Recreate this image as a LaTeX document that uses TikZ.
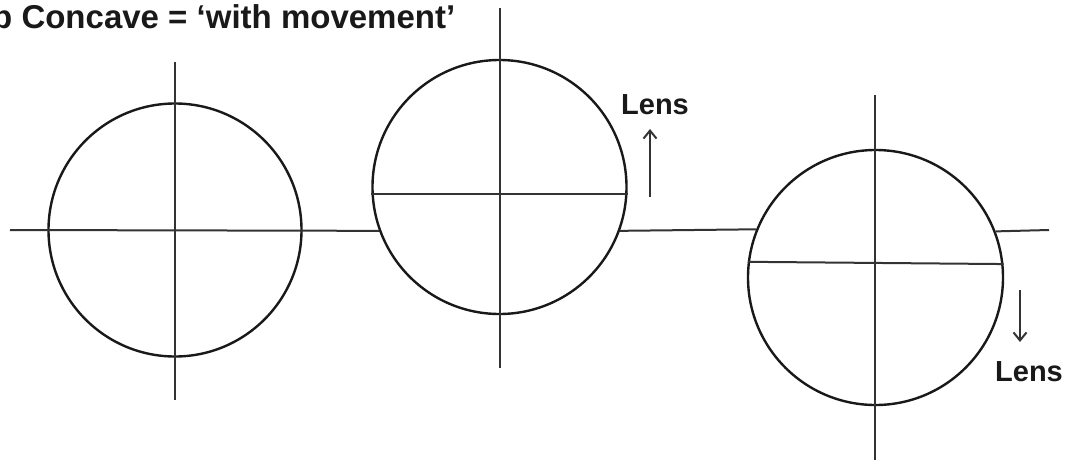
\documentclass[tikz,border=0pt]{standalone}
\usepackage{fontspec}
\setmainfont{Liberation Sans}
\usetikzlibrary{arrows.meta}
\begin{document}
\begin{tikzpicture}[x=1pt,y=-1pt,
  ring/.style={draw, circle, inner sep=0pt, line width=2.4pt, black!90},
  axis/.style={line width=2pt, black!80},
  lensarrow/.style={line width=2pt, black!80, -{Straight Barb[length=8pt,width=13pt]}},
  lbl/.style={font=\fontsize{29}{32}\selectfont\bfseries, inner sep=0pt, text=black!90},
  ttl/.style={font=\fontsize{33}{36}\selectfont\bfseries, inner sep=0pt, text=black!90}]
\useasboundingbox (0,0) rectangle (1068,461);
\fill[white] (0,0) rectangle (1068,461);
% title
\node[ttl, anchor=base west] (title) at (-8,28) {b Concave = ‘with movement’};
% circles
\node[ring, minimum size=253pt] (c1) at (175,230) {};
\node[ring, minimum size=254pt] (c2) at (499.5,187) {};
\node[ring, minimum size=255pt] (c3) at (875.5,277.5) {};
% axis end points
\coordinate (bl) at (10,230);
\coordinate (br) at (1049,230);
\coordinate (v1t) at (175,62);  \coordinate (v1b) at (175,400);
\coordinate (v2t) at (500,8);   \coordinate (v2b) at (500,368);
\coordinate (v3t) at (875,95);  \coordinate (v3b) at (875,460);
% baseline segments
\draw[axis] (bl) -- (c2.200);
\draw[axis] (c2.-20) -- (c3.158.1);
\draw[axis] (c3.21.9) -- (br);
% chords inside moved circles
\draw[axis] (c2.183.6) -- (c2.-3.6);
\draw[axis] (c3.173.5) -- (c3.6.5);
% vertical lines
\draw[axis] (v1t) -- (v1b);
\draw[axis] (v2t) -- (v2b);
\draw[axis] (v3t) -- (v3b);
% lens arrows and labels
\coordinate (a1s) at (650,197); \coordinate (a1e) at (650,129);
\draw[lensarrow] (a1s) -- (a1e);
\node[lbl, anchor=base] (lens1) at (655,114) {Lens};
\coordinate (a2s) at (1020,290); \coordinate (a2e) at (1020,342);
\draw[lensarrow] (a2s) -- (a2e);
\node[lbl, anchor=base] (lens2) at (1029,381) {Lens};
\end{tikzpicture}
\end{document}
